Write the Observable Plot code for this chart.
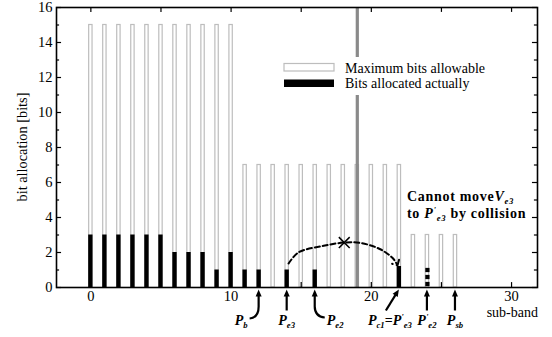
<!DOCTYPE html>
<html><head><meta charset="utf-8">
<script src="https://cdn.jsdelivr.net/npm/d3@7"></script>
<script src="https://cdn.jsdelivr.net/npm/@observablehq/plot@0.6"></script>
<style>body{margin:0;background:#fff}svg{display:block}</style>
</head><body><div id="chart"></div>
<script>
// ---- data ----
const subBands   = [0,1,2,3,4,5,6,7,8,9,10,11,12,13,14,15,16,17,18,19,20,21,22,23,24,25,26];
const maxBits    = [15,15,15,15,15,15,15,15,15,15,15,7,7,7,7,7,7,7,7,7,7,7,7,3,3,3,3];
const actualBits = [3,3,3,3,3,3,2,2,2,1,2,1,1,0,1,0,1,0,0,0,0,0,1.2,0,0,0,0];
const movedBand = 24;
const movedBits = [0.2, 0.6, 1.0];
const boundaryBand = 19;
const arcX = [14.1, 14.8, 16.6, 18.07, 19.2, 20.6, 21.5, 21.8];
const arcY = [1.37, 2.0, 2.38, 2.57, 2.55, 2.2, 1.7, 1.37];
const collisionPoint = {x: 18.07, y: 2.57};
const xTickLabels = [0, 10, 20, 30];
const xTickMarks = [0, 5, 10, 15, 20, 25, 30];
const yTickLabels = [0, 2, 4, 6, 8, 10, 12, 14, 16];
const yMinorTicks = [1, 3, 5, 7, 9, 11, 13, 15];
const xDomain = [-2.45, 31.85];
const yDomain = [0, 16];
const legendLabels = ["Maximum bits allowable", "Bits allocated actually"];
const pointers = [
  {band: 12, kind: "curveLeft",  parts: [{t:"P"},{t:"b",sub:true}]},
  {band: 14, kind: "straight",   parts: [{t:"P"},{t:"e3",sub:true}]},
  {band: 16, kind: "curveRight", parts: [{t:"P"},{t:"e2",sub:true}]},
  {band: 22, kind: "slant",      parts: [{t:"P"},{t:"c1",sub:true},{t:"=",plain:true},{t:"P"},{t:"'",sup:true},{t:"e3",sub:true}]},
  {band: 24, kind: "straight",   parts: [{t:"P"},{t:"'",sup:true},{t:"e2",sub:true}]},
  {band: 26, kind: "straight",   parts: [{t:"P"},{t:"sb",sub:true}]}
];

const bars = subBands.map((b, i) => ({band: b, max: maxBits[i], actual: actualBits[i]}));
const allocated = bars.filter(d => d.actual > 0);
const moved = movedBits.map(v => ({band: movedBand, v}));
const arc = arcX.map((x, i) => ({x, y: arcY[i]}));

const serif = "'Liberation Serif','Times New Roman',serif";
const hw = 0.12, hwB = 0.155;
const xL = xDomain[0], xR = xDomain[1];

const plot = Plot.plot({
  width: 552, height: 337,
  marginLeft: 56, marginRight: 15, marginTop: 7, marginBottom: 50,
  x: {domain: xDomain},
  y: {domain: yDomain},
  style: {fontFamily: serif, fontSize: "14px", color: "black", background: "white"},
  marks: [
    Plot.rect(bars, {x1: d => d.band - hw, x2: d => d.band + hw, y1: 0, y2: "max", fill: "white", stroke: "#bdbdbd", strokeWidth: 1.2}),
    Plot.rect(allocated, {x1: d => d.band - hwB, x2: d => d.band + hwB, y1: 0, y2: "actual", fill: "black"}),
    Plot.ruleX([boundaryBand], {stroke: "#8a8a8a", strokeWidth: 3.2}),
    Plot.dot(moved, {x: "band", y: "v", symbol: "square", r: 2.4, fill: "black"}),
    Plot.line(arc, {x: "x", y: "y", curve: "catmull-rom", stroke: "black", strokeWidth: 2, strokeDasharray: "5,3", markerEnd: "arrow"}),
    Plot.dot([collisionPoint], {x: "x", y: "y", symbol: "times", r: 5, stroke: "black", strokeWidth: 1.5}),
    // inward ticks
    Plot.ruleX(xTickMarks, {x: d => d, y1: 0, y2: 0.28, stroke: "black", strokeWidth: 1.2}),
    Plot.ruleX(xTickMarks, {x: d => d, y1: 16, y2: 15.72, stroke: "black", strokeWidth: 1.2}),
    Plot.ruleY(yTickLabels, {y: d => d, x1: xL, x2: xL + 0.36, stroke: "black", strokeWidth: 1.2}),
    Plot.ruleY(yMinorTicks, {y: d => d, x1: xL, x2: xL + 0.22, stroke: "black", strokeWidth: 1.2}),
    Plot.ruleY(yTickLabels, {y: d => d, x1: xR, x2: xR - 0.36, stroke: "black", strokeWidth: 1.2}),
    Plot.ruleY(yMinorTicks, {y: d => d, x1: xR, x2: xR - 0.22, stroke: "black", strokeWidth: 1.2}),
    Plot.axisX({ticks: xTickLabels, tickSize: 0, tickPadding: 3, label: null, fontSize: 14.5}),
    Plot.axisY({ticks: yTickLabels, tickSize: 0, tickPadding: 4, label: null, fontSize: 14.5}),
    Plot.frame({stroke: "black", strokeWidth: 1.6})
  ]
});
document.getElementById("chart").appendChild(plot);

const svg = d3.select(plot);
const xs = plot.scale("x"), ys = plot.scale("y");
const g = svg.append("g").attr("font-family", serif).attr("fill", "black").attr("text-anchor", "start");

// y-axis title and x-axis title
g.append("text").attr("transform", `translate(22,${(ys.apply(0)+ys.apply(16))/2}) rotate(-90)`)
  .attr("text-anchor", "middle").attr("dominant-baseline", "central").attr("font-size", 14.3).text("bit allocation [bits]");
g.append("text").attr("x", xs.apply(xR) + 1).attr("y", 317).attr("text-anchor", "end").attr("font-size", 14).text("sub-band");

// legend
const lx = 284;
g.append("rect").attr("x", 278).attr("y", 57).attr("width", 215).attr("height", 38).attr("fill", "white");
g.append("rect").attr("x", lx).attr("y", 63.5).attr("width", 50).attr("height", 7.5).attr("fill", "white").attr("stroke", "#bdbdbd").attr("stroke-width", 1.2);
g.append("rect").attr("x", lx).attr("y", 79.5).attr("width", 50).attr("height", 7.5).attr("fill", "black");
g.append("text").attr("x", 345).attr("y", 72.5).attr("text-anchor", "start").attr("font-size", 14).text(legendLabels[0]);
g.append("text").attr("x", 345).attr("y", 87.5).attr("text-anchor", "start").attr("font-size", 14).text(legendLabels[1]);

function rich(x, y, parts, {anchor = "start", size = 14, weight = "bold", italic = true, spacing = 0} = {}) {
  const t = g.append("text").attr("x", x).attr("y", y).attr("text-anchor", anchor)
    .attr("font-size", size).attr("font-weight", weight).attr("letter-spacing", spacing);
  let shift = 0;
  for (const p of parts) {
    const s = t.append("tspan").text(p.t);
    const target = p.sub ? 3 : p.sup ? -5 : 0;
    if (target !== shift) { s.attr("dy", target - shift); shift = target; }
    if (p.sub || p.sup) s.attr("font-size", size * 0.62);
    s.attr("font-style", p.plain ? "normal" : italic ? "italic" : "normal");
  }
  return t;
}

// annotation
rich(407, 201, [{t:"Cannot move", plain:true},{t:"V"},{t:"e3",sub:true}], {size: 14, spacing: 0.7});
rich(407, 218, [{t:"to ", plain:true},{t:"P"},{t:"'",sup:true},{t:"e3",sub:true},{t:" by collision",plain:true}], {size: 14, spacing: 0.7});

// pointer arrows below axis
const tipY = ys.apply(0) + 2.5;
function head(x, y, ux, uy) {
  const L = 7, W = 3;
  const bx = x + ux * L, by = y + uy * L;
  const px = -uy, py = ux;
  g.append("path").attr("d", `M${x},${y}L${bx + px*W},${by + py*W}L${bx - px*W},${by - py*W}Z`).attr("fill", "black");
}
for (const p of pointers) {
  const x0 = xs.apply(p.band);
  let d;
  if (p.kind === "straight") {
    d = `M${x0},${tipY+4}L${x0},${tipY+21}`; head(x0, tipY, 0, 1);
    rich(x0, 325, p.parts, {anchor: "middle"});
  } else if (p.kind === "curveLeft") {
    d = `M${x0},${tipY+4}L${x0},${tipY+17}Q${x0},${tipY+28} ${x0-9},${tipY+29}`; head(x0, tipY, 0, 1);
    rich(x0 - 11, 325, p.parts, {anchor: "end"});
  } else if (p.kind === "curveRight") {
    d = `M${x0},${tipY+4}L${x0},${tipY+17}Q${x0},${tipY+27} ${x0+10},${tipY+28}`; head(x0, tipY, 0, 1);
    rich(x0 + 12, 325, p.parts, {anchor: "start"});
  } else {
    const ex = x0 - 13, ey = tipY + 21;
    const len = Math.hypot(ex - x0, ey - tipY), ux = (ex - x0)/len, uy = (ey - tipY)/len;
    d = `M${x0+ux*4},${tipY+uy*4}L${ex},${ey}`; head(x0, tipY, ux, uy);
    rich(x0 - 9, 325, p.parts, {anchor: "middle"});
  }
  g.append("path").attr("d", d).attr("fill", "none").attr("stroke", "black").attr("stroke-width", 2.2);
}
</script></body></html>
